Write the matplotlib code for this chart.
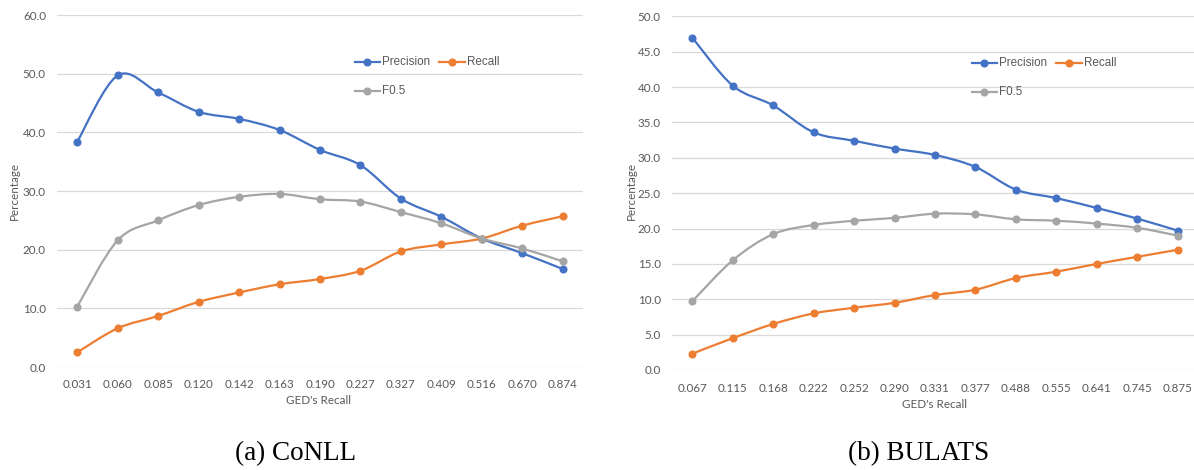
import numpy as np
import matplotlib
matplotlib.use("Agg")
import matplotlib.pyplot as plt
from matplotlib.path import Path
from matplotlib.patches import PathPatch
from matplotlib.lines import Line2D

# ---- data -------------------------------------------------------------
conll_ticks = ["0.031", "0.060", "0.085", "0.120", "0.142", "0.163", "0.190",
               "0.227", "0.327", "0.409", "0.516", "0.670", "0.874"]
conll_precision = [38.4, 49.7, 46.8, 43.5, 42.3, 40.4, 37.0, 34.4, 28.7, 25.6, 21.9, 19.4, 16.7]
conll_recall = [2.5, 6.6, 8.7, 11.1, 12.7, 14.1, 15.0, 16.4, 19.7, 20.9, 21.9, 24.1, 25.7]
conll_f05 = [10.3, 21.6, 25.0, 27.6, 29.0, 29.5, 28.6, 28.2, 26.4, 24.5, 21.9, 20.2, 18.0]

bulats_ticks = ["0.067", "0.115", "0.168", "0.222", "0.252", "0.290", "0.331",
                "0.377", "0.488", "0.555", "0.641", "0.745", "0.875"]
bulats_precision = [47.0, 40.2, 37.4, 33.6, 32.4, 31.3, 30.4, 28.7, 25.5, 24.3, 22.9, 21.4, 19.7]
bulats_recall = [2.3, 4.5, 6.5, 8.0, 8.8, 9.5, 10.6, 11.35, 13.0, 13.9, 15.0, 16.0, 17.0]
bulats_f05 = [9.7, 15.5, 19.2, 20.5, 21.1, 21.5, 22.1, 22.0, 21.3, 21.1, 20.7, 20.1, 19.0]

series_names = ["Precision", "Recall", "F0.5"]
colors = ["#4472C4", "#ED7D31", "#A5A5A5"]

# ---- figure -----------------------------------------------------------
W, H = 1194, 470
fig = plt.figure(figsize=(W / 100, H / 100), dpi=100)
fig.patch.set_facecolor("white")

TXT = "#595959"
TICK_FONT = ["Lato", "DejaVu Sans"]
LEG_FONT = ["Liberation Sans", "DejaVu Sans"]
TICK_SIZE = 8.4


def fx(px):
    return px / W


def fy(py):
    return 1 - py / H


def smooth_path(xs, ys):
    """Cubic Bezier path through all points (Catmull-Rom style smoothing)."""
    pts = np.column_stack([xs, ys]).astype(float)
    n = len(pts)
    verts = [pts[0]]
    codes = [Path.MOVETO]
    for i in range(n - 1):
        p0 = pts[i - 1] if i > 0 else pts[i]
        p1 = pts[i]
        p2 = pts[i + 1]
        p3 = pts[i + 2] if i + 2 < n else pts[i + 1]
        c1 = p1 + (p2 - p0) / 6.0
        c2 = p2 - (p3 - p1) / 6.0
        verts += [c1, c2, p2]
        codes += [Path.CURVE4] * 3
    return Path(verts, codes)


def panel(left_px, right_px, top_px, zero_px, ymax, ystep, xlim_hi, ticks, series):
    ax = fig.add_axes([fx(left_px), fy(zero_px), fx(right_px - left_px),
                       (zero_px - top_px) / H])
    x = np.arange(len(ticks))
    for vals, c in zip(series, colors):
        ax.add_patch(PathPatch(smooth_path(x, vals), facecolor="none",
                               edgecolor=c, lw=1.6, capstyle="round",
                               joinstyle="round", zorder=3))
        ax.plot(x, vals, linestyle="none", marker="o", ms=4.8, color=c, zorder=4)
    ax.set_xlim(-0.5, xlim_hi)
    ax.set_ylim(0, ymax)
    yt = np.arange(0, ymax + 0.01, ystep)
    ax.set_yticks(yt)
    ax.set_yticklabels([f"{v:.1f}" for v in yt])
    ax.set_xticks(x)
    ax.set_xticklabels(ticks)
    for s in ax.spines.values():
        s.set_visible(False)
    ax.grid(axis="y", color="#D9D9D9", lw=0.9)
    ax.set_axisbelow(True)
    ax.tick_params(length=0, colors=TXT, labelsize=TICK_SIZE, pad=9)
    ax.tick_params(axis="y", pad=8)
    for lab in ax.get_xticklabels() + ax.get_yticklabels():
        lab.set_family(TICK_FONT)
    return ax


# (a) CoNLL
panel(57, 583, 15, 367, 60, 10, 12.5, conll_ticks,
      [conll_precision, conll_recall, conll_f05])
# (b) BULATS
panel(672, 1194, 16.3, 370, 50, 5, 12.5 - 4 / 40.5, bulats_ticks,
      [bulats_precision, bulats_recall, bulats_f05])


def legend(entries):
    for (x0, x1, y, label), c in entries:
        fig.add_artist(Line2D([fx(x0), fx(x1)], [fy(y), fy(y)], color=c, lw=1.6,
                              transform=fig.transFigure))
        fig.add_artist(Line2D([fx((x0 + x1) / 2)], [fy(y)], marker="o", ms=4.8,
                              color=c, transform=fig.transFigure))
        fig.text(fx(x1 + 2), fy(y), label, ha="left", va="center",
                 color=TXT, fontsize=8.4, family=LEG_FONT)


legend(list(zip([(355, 380, 62.3, "Precision"), (439.3, 464.7, 62.3, "Recall"),
                 (355, 380, 90.7, "F0.5")], colors)))
legend(list(zip([(971.7, 996.7, 63.3, "Precision"), (1056, 1081.7, 63.3, "Recall"),
                 (971.7, 996.7, 91.7, "F0.5")], colors)))

# axis titles
for xc, yc in [(14, 191), (631, 191)]:
    fig.text(fx(xc), fy(yc), "Percentage", rotation=90, ha="center", va="center",
             color=TXT, fontsize=TICK_SIZE, family=TICK_FONT)
for xc, yc in [(319, 401), (935, 404)]:
    fig.text(fx(xc), fy(yc), "GED's Recall", ha="center", va="center",
             color=TXT, fontsize=TICK_SIZE, family=TICK_FONT)

# sub-captions
for xc, label in [(295.5, "(a) CoNLL"), (919, "(b) BULATS")]:
    fig.text(fx(xc), fy(454), label, ha="center", va="center", color="black",
             fontsize=19.5, family=["Liberation Serif", "DejaVu Serif"])

fig.savefig("out.png", dpi=100, facecolor="white")
